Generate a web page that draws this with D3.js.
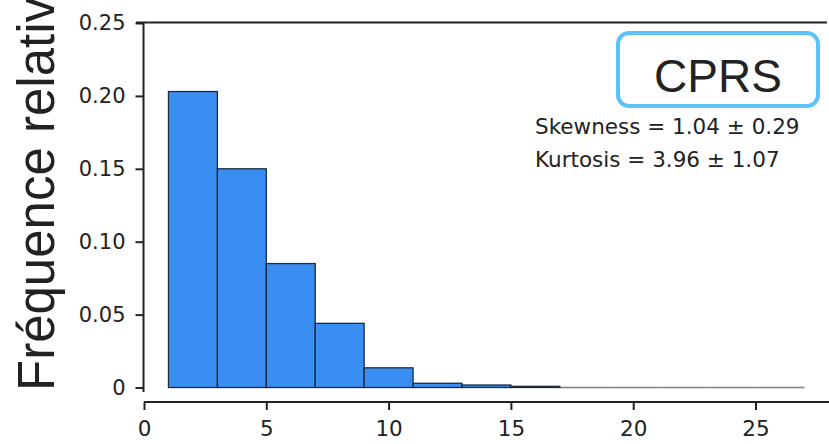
<!DOCTYPE html>
<html><head><meta charset="utf-8">
<script src="https://cdn.jsdelivr.net/npm/d3@7"></script>
<style>body{margin:0;background:#fff}svg{display:block;font-family:"Liberation Sans",Arial,Helvetica,sans-serif}</style>
</head><body>
<svg id="c" width="829" height="444"></svg>
<script>
const binStarts = [1,3,5,7,9,11,13,15,17,19,21,23,25];
const binWidth = 2;
const freqValues = [0.203,0.150,0.085,0.044,0.0135,0.0029,0.0017,0.0008,0,0,0,0,0];
const xTicks = [0,5,10,15,20,25];
const yTicks = [0,0.05,0.10,0.15,0.20,0.25];
const yTickLabels = ["0","0.05","0.10","0.15","0.20","0.25"];
const yTitle = "Fréquence relative";
const panelLabel = "CPRS";
const statLines = ["Skewness = 1.04 ± 0.29","Kurtosis = 3.96 ± 1.07"];

const svg = d3.select("#c");
const x = d3.scaleLinear().domain([0,25]).range([144,755.5]);
const y = d3.scaleLinear().domain([0,0.25]).range([387.5,23]);

// top frame line
svg.append("line").attr("x1",136).attr("x2",827).attr("y1",22.5).attr("y2",22.5)
  .attr("stroke","#222").attr("stroke-width",2);

const data = binStarts.map((s,i)=>({s, v:freqValues[i]}));
// zero-height bins drawn as a baseline
svg.append("g").selectAll("line").data(data.filter(d=>d.v===0)).join("line")
  .attr("x1",d=>x(d.s)).attr("x2",d=>x(d.s+binWidth))
  .attr("y1",y(0)).attr("y2",y(0))
  .attr("stroke","#808080").attr("stroke-width",1.6);
// bars
svg.append("g").selectAll("rect").data(data.filter(d=>d.v>0)).join("rect")
  .attr("x",d=>x(d.s)).attr("width",d=>x(d.s+binWidth)-x(d.s))
  .attr("y",d=>y(d.v)).attr("height",d=>y(0)-y(d.v))
  .attr("fill","#3a8ef2")
  .attr("stroke","#1b2b40")
  .attr("stroke-width",1.3);

// y axis
const yAxis = d3.axisLeft(y).tickValues(yTicks).tickFormat((d,i)=>yTickLabels[i]).tickSize(8).tickPadding(10).tickSizeOuter(0);
const gy = svg.append("g").attr("transform","translate(143.5,0)").call(yAxis);
gy.select(".domain").attr("d","M0,23V392").attr("stroke","#222").attr("stroke-width",2);
gy.selectAll(".tick line").attr("stroke","#222").attr("stroke-width",2);
gy.selectAll(".tick text").attr("font-size",21).attr("fill","#222").attr("font-family","DejaVu Sans, sans-serif");

// x axis
const xAxis = d3.axisBottom(x).tickValues(xTicks).tickSize(8).tickPadding(11).tickSizeOuter(0);
const gx = svg.append("g").attr("transform","translate(0,402)").call(xAxis);
gx.select(".domain").attr("d","M144,0H829").attr("stroke","#222").attr("stroke-width",2);
gx.selectAll(".tick line").attr("stroke","#222").attr("stroke-width",2);
gx.selectAll(".tick text").attr("font-size",21.5).attr("fill","#222").attr("font-family","DejaVu Sans, sans-serif");

// y title
svg.append("text").attr("transform","translate(54,391) rotate(-90)")
  .attr("font-size",51).attr("fill","#222").text(yTitle);

// CPRS box
svg.append("rect").attr("x",618).attr("y",33).attr("width",200).attr("height",73)
  .attr("rx",11).attr("fill","#fff").attr("stroke","#5cc3f8").attr("stroke-width",4);
svg.append("text").attr("x",718).attr("y",92).attr("text-anchor","middle")
  .attr("font-size",46).attr("fill","#222").text(panelLabel);

svg.selectAll(".stat").data(statLines).join("text").attr("class","stat")
  .attr("x",535).attr("y",(d,i)=>134+i*33).attr("font-size",21.5).attr("fill","#222")
  .attr("font-family","DejaVu Sans, sans-serif").text(d=>d);
</script>
</body></html>
